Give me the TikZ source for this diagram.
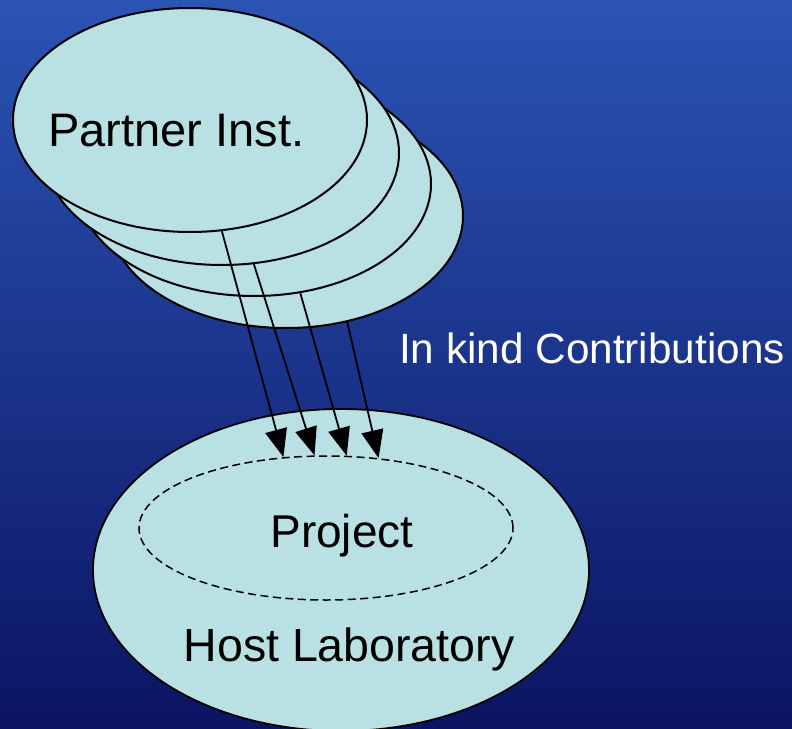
\documentclass[tikz,border=0pt]{standalone}
\usepackage{fontspec}
\setmainfont{Liberation Sans}
\usetikzlibrary{shapes.geometric,arrows.meta}
\definecolor{bgtop}{RGB}{43,84,180}
\definecolor{bgbot}{RGB}{11,20,98}
\definecolor{disk}{RGB}{185,224,227}
\tikzset{
  inst/.style={ellipse, draw=black, fill=disk, line width=2pt, inner sep=0pt,
               minimum width=354pt, minimum height=224pt},
  flow/.style={line width=1.8pt, arrows={-Triangle[length=28pt,width=22pt]}},
  lbl/.style={font=\fontsize{46}{46}\selectfont, text=black, inner sep=0pt}
}
\begin{document}
\begin{tikzpicture}[x=1pt,y=-1pt]
  % background
  \shade[top color=bgtop, bottom color=bgbot] (0,0) rectangle (792,728);
  \useasboundingbox (0,0) rectangle (792,728);

  % host laboratory with the project inside
  \node[ellipse, draw=black, fill=disk, line width=1.8pt, inner sep=0pt,
        minimum width=496pt, minimum height=322pt] (host) at (341,570) {};
  \node[ellipse, draw=black, dash pattern=on 8pt off 4.5pt, line width=1.5pt,
        inner sep=0pt, minimum width=374pt, minimum height=144pt] (proj) at (326,528) {};
  \node[lbl, anchor=base] (projtxt) at (342,547) {Project};
  \node[lbl, font=\fontsize{46.5}{46.5}\selectfont, anchor=base] (hosttxt) at (349,661) {Host Laboratory};

  % stack of partner institutes, back to front
  \node[inst] (p4) at (286,216) {};
  \node[inst] (p3) at (254,184) {};
  \node[inst] (p2) at (222,153) {};
  \node[inst] (p1) at (190,120) {};
  \node[lbl, font=\fontsize{47}{47}\selectfont, anchor=base west] (ptxt) at (48,146) {Partner Inst.};

  % contributions flowing into the project
  \draw[flow] (p1.-74) -- (proj.121);
  \draw[flow] (p2.-74) -- (proj.99);
  \draw[flow] (p3.-67.4) -- (proj.74);
  \draw[flow] (p4.-60.6) -- (proj.53);

  \node[lbl, font=\fontsize{42.3}{42.3}\selectfont, text=white, anchor=base west] (ikc) at (399,363) {In kind Contributions};
\end{tikzpicture}
\end{document}
